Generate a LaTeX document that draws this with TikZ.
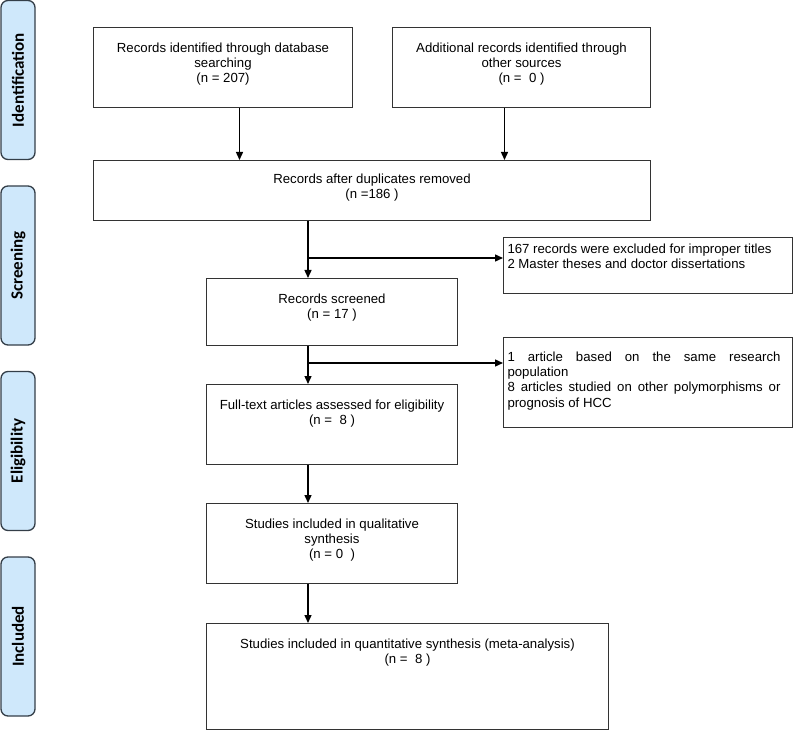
\documentclass[tikz,border=0pt]{standalone}
\usepackage{fontspec}
\setmainfont{Liberation Sans}
\newfontfamily\sidefont{Carlito}
\usetikzlibrary{arrows.meta}
\definecolor{phasefill}{RGB}{207,232,251}
\definecolor{phaseline}{RGB}{52,62,72}
% fixed-size box text: width, height, top gap, text
\newcommand{\midtext}[4]{\parbox[t][#2pt][t]{#1pt}{\centering\vspace*{#3pt}#4}}
\newcommand{\lefttext}[4]{\parbox[t][#2pt][t]{#1pt}{\leftskip=4pt\rightskip=12pt\hyphenpenalty=10000\vspace*{#3pt}#4}}
\begin{document}
\begin{tikzpicture}[x=1pt,y=-1pt,
    every node/.style={inner sep=0pt,font=\fontsize{13.2pt}{15.4pt}\selectfont},
    stage/.style={draw=black!80,line width=1pt,anchor=north west},
    phase/.style={draw=phaseline,line width=1.3pt,fill=phasefill,rounded corners=7pt,rotate=90,
      minimum width=159pt,minimum height=34pt,font=\sidefont\bfseries\fontsize{17pt}{20pt}\selectfont},
    flow/.style={line width=1.4pt,-{Triangle[width=7pt,length=8pt]}}]
    \useasboundingbox (0,0) rectangle (793,730);

    \node[phase] (ident) at (18,80) {Identification};
    \node[phase] (screen) at (18,265.5) {Screening};
    \node[phase] (elig) at (18,451) {Eligibility};
    \node[phase] (incl) at (18,636.5) {Included};

    \node[stage] (db) at (93,27) {\midtext{259}{80}{15}{Records identified through database\\searching\\(n = 207)}};
    \node[stage] (other) at (392,27) {\midtext{258}{80}{15}{Additional records identified through\\other sources\\(n =\ \ 0 )}};
    \node[stage] (dup) at (93,160) {\midtext{557}{60}{13}{Records after duplicates removed\\(n =186 )}};
    \node[stage] (excl1) at (503,237) {\parbox[t][56pt][t]{289pt}{\raggedright\leftskip=4pt\vspace*{6pt}167 records were excluded for improper titles\\2 Master theses and doctor dissertations}};
    \node[stage] (screened) at (206,278) {\midtext{251}{67}{15}{Records screened\\(n = 17 )}};
    \node[stage] (excl2) at (503,337) {\lefttext{289}{90}{14}{1 article based on the same research population\par 8 articles studied on other polymorphisms or prognosis of HCC}};
    \node[stage] (full) at (206,384) {\midtext{251}{80}{15}{Full-text articles assessed for eligibility\\(n =\ \ 8 )}};
    \node[stage] (qual) at (206,503) {\midtext{251}{80}{15}{Studies included in qualitative\\synthesis\\(n = 0\ \ )}};
    \node[stage] (quant) at (206,623) {\midtext{402}{105.5}{15}{Studies included in quantitative synthesis (meta-analysis)\\(n =\ \ 8 )}};

    \coordinate (s1) at (307.5,258);
    \coordinate (s2) at (307.5,363);

    \draw[flow] ([xshift=16.5pt]db.south) to ([xshift=16.5pt]db.south |- dup.north);
    \draw[flow] ([xshift=-17pt]other.south) to ([xshift=-17pt]other.south |- dup.north);
    \draw[flow] ([xshift=-64pt]dup.south) to ([xshift=-64pt]dup.south |- screened.north);
    \draw[flow] (s1) to (s1 -| excl1.west);
    \draw[flow] ([xshift=-24pt]screened.south) to ([xshift=-24pt]screened.south |- full.north);
    \draw[flow] (s2) to (s2 -| excl2.west);
    \draw[flow] ([xshift=-24pt]full.south) to ([xshift=-24pt]full.south |- qual.north);
    \draw[flow] ([xshift=-24pt]qual.south) to ([xshift=-24pt]qual.south |- quant.north);
\end{tikzpicture}
\end{document}
